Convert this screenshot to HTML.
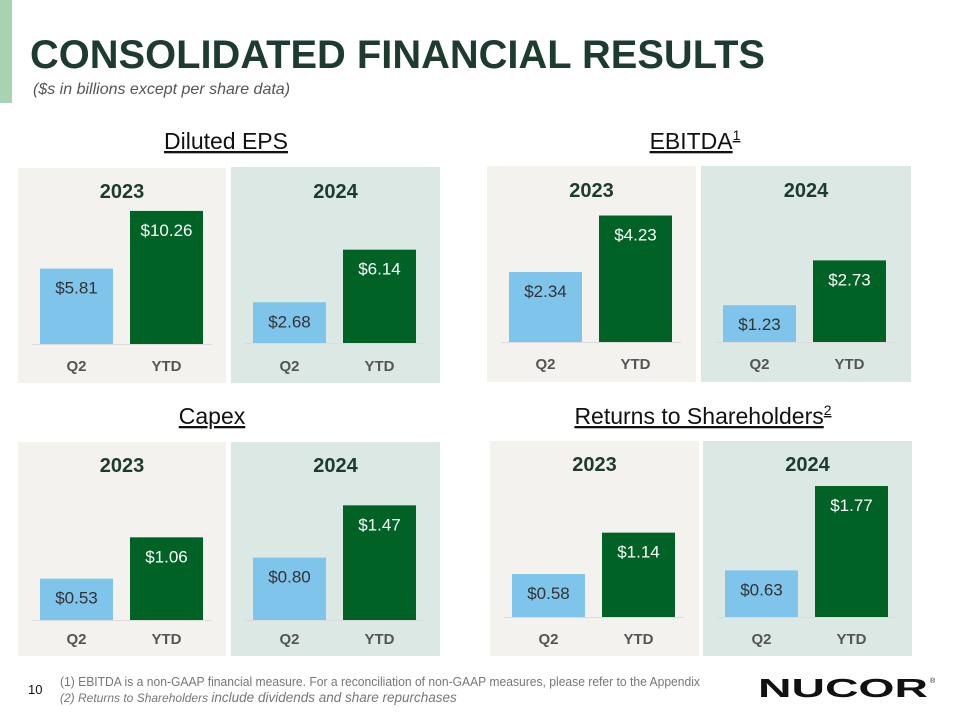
<!DOCTYPE html>
<html><head><meta charset="utf-8"><style>
html,body{margin:0;padding:0;background:#fff;}
svg{display:block;font-family:"Liberation Sans",sans-serif;}
</style></head><body>
<svg id="s" width="960" height="720" viewBox="0 0 960 720">
<rect x="0" y="0" width="12" height="103" fill="#a7d3b1"/>
<text x="30" y="68" font-size="40" font-weight="bold" fill="#1d3b2f" textLength="735" lengthAdjust="spacingAndGlyphs">CONSOLIDATED FINANCIAL RESULTS</text>
<text x="33" y="94" font-size="16" font-style="italic" fill="#555">($s in billions except per share data)</text>
<text x="226" y="149" font-size="23" text-anchor="middle" text-decoration="underline" fill="#111">Diluted EPS</text>
<text x="695" y="149" font-size="23" text-anchor="middle" text-decoration="underline" fill="#111">EBITDA<tspan font-size="14" dy="-9">1</tspan></text>
<text x="212" y="424" font-size="23" text-anchor="middle" text-decoration="underline" fill="#111">Capex</text>
<text x="703" y="424" font-size="23" text-anchor="middle" text-decoration="underline" fill="#111">Returns to Shareholders<tspan font-size="14" dy="-9">2</tspan></text>
<g id="charts"></g>
<text x="28" y="694" font-size="13" fill="#111">10</text>
<text x="60" y="686" font-size="12.5" fill="#777" textLength="640" lengthAdjust="spacingAndGlyphs">(1)   EBITDA is a non-GAAP financial measure. For a reconciliation of non-GAAP measures, please refer to the Appendix</text>
<text x="60" y="702" font-size="12" fill="#777" font-style="italic">(2)   Returns to Shareholders <tspan font-size="13.5">include dividends and share repurchases</tspan></text>
<text x="758" y="697" font-size="26" font-weight="900" fill="#111" textLength="170" lengthAdjust="spacingAndGlyphs">NUCOR</text>
<text x="930" y="683" font-size="7" fill="#111">®</text>
</svg>
<script>
const categories = ["Q2", "YTD"];
const years = ["2023", "2024"];
const epsValues = [[5.81, 10.26], [2.68, 6.14]];
const ebitdaValues = [[2.34, 4.23], [1.23, 2.73]];
const capexValues = [[0.53, 1.06], [0.80, 1.47]];
const returnsValues = [[0.58, 1.14], [0.63, 1.77]];
const valueLabels = {
  eps: [["$5.81", "$10.26"], ["$2.68", "$6.14"]],
  ebitda: [["$2.34", "$4.23"], ["$1.23", "$2.73"]],
  capex: [["$0.53", "$1.06"], ["$0.80", "$1.47"]],
  returns: [["$0.58", "$1.14"], ["$0.63", "$1.77"]]
};
const NS = "http://www.w3.org/2000/svg";
const g = document.getElementById("charts");
function mk(tag, attrs, txt) {
  const e = document.createElementNS(NS, tag);
  for (const k in attrs) e.setAttribute(k, attrs[k]);
  if (txt !== undefined) e.textContent = txt;
  g.appendChild(e);
  return e;
}
const groups = [
  {key: "eps", vals: epsValues, panels: [
    {x:18,y:168,w:208,h:215,base:344,ppu:12.97,ty:198,cy:371},
    {x:231,y:167,w:209,h:216,base:343,ppu:15.2,ty:198,cy:371}]},
  {key: "ebitda", vals: ebitdaValues, panels: [
    {x:487,y:166,w:209,h:216,base:342,ppu:29.9,ty:197,cy:369},
    {x:701,y:166,w:210,h:216,base:342,ppu:29.9,ty:197,cy:369}]},
  {key: "capex", vals: capexValues, panels: [
    {x:18,y:442,w:208,h:214,base:620,ppu:78,ty:472,cy:644},
    {x:231,y:442,w:209,h:214,base:620,ppu:78,ty:472,cy:644}]},
  {key: "returns", vals: returnsValues, panels: [
    {x:490,y:441,w:209,h:215,base:617,ppu:74,ty:471,cy:644},
    {x:703,y:441,w:209,h:215,base:617,ppu:74,ty:471,cy:644}]}
];
const bgs = ["#f3f2ee", "#dce8e3"];
const colors = ["#7ec4eb", "#006225"];
groups.forEach(grp => {
  grp.panels.forEach((p, yi) => {
    let e = mk("rect", {x:p.x, y:p.y, width:p.w, height:p.h, fill:bgs[yi]});
    
    
    e = mk("text", {x:p.x + p.w/2, y:p.ty, "font-size":20, "font-weight":"bold", fill:"#1d3b2f", "text-anchor":"middle"}, years[yi]);
    
    
    e = mk("line", {x1:p.x+14, x2:p.x+194, y1:p.base+0.5, y2:p.base+0.5, stroke:"#dcdcdc", "stroke-width":1});
    
    
    categories.forEach((c, ci) => {
      const v = grp.vals[yi][ci];
      const bx = p.x + 22 + ci * 90;
      const bh = v * p.ppu;
      const top = p.base - bh;
      let b = mk("rect", {x:bx, y:top, width:73, height:bh, fill:colors[ci]});
      
      
      let t = mk("text", {x:bx+36.5, y:top+25, "font-size":17, fill:ci ? "#fff" : "#333", "text-anchor":"middle"}, valueLabels[grp.key][yi][ci]);
      
      
      let cl = mk("text", {x:bx+36.5, y:p.cy, "font-size":15, "font-weight":"bold", fill:"#555", "text-anchor":"middle"}, c);
      
      
    });
  });
});
</script>
</body></html>
